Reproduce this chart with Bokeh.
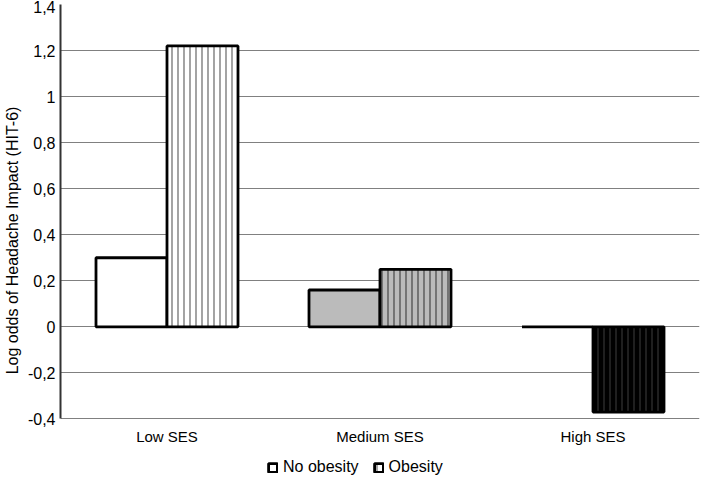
from bokeh.plotting import figure
from bokeh.models import ColumnDataSource, FactorRange, Range1d, FixedTicker, Legend, LegendItem
from bokeh.transform import dodge
from bokeh.embed import file_html
from bokeh.resources import INLINE

categories = ["Low SES", "Medium SES", "High SES"]
no_obesity = [0.30, 0.16, 0.0]
obesity = [1.22, 0.25, -0.37]
bar_colors = ["#ffffff", "#bbbbbb", "#000000"]
hatch_colors = ["#666666", "#444444", "#333333"]
y_ticks = [-0.4, -0.2, 0, 0.2, 0.4, 0.6, 0.8, 1.0, 1.2, 1.4]
y_tick_labels = ["-0,4", "-0,2", "0", "0,2", "0,4", "0,6", "0,8", "1", "1,2", "1,4"]
y_min, y_max = -0.4, 1.4
legend_room = 0.25  # extra space below the axis (data units) that holds the legend

src = ColumnDataSource(dict(cat=categories, no=no_obesity, ob=obesity,
                            color=bar_colors, hcolor=hatch_colors))

p = figure(width=700, height=476, x_range=FactorRange(factors=categories),
           y_range=Range1d(y_min - legend_room, y_max), output_backend="svg",
           toolbar_location=None,
           min_border_left=0, min_border_right=1, min_border_top=4, min_border_bottom=0)

r1 = p.vbar(x=dodge("cat", -1/6, range=p.x_range), bottom=0, top="no", width=1/3,
            source=src, fill_color="color", line_color="black", line_width=2.8)
r2 = p.vbar(x=dodge("cat", 1/6, range=p.x_range), bottom=0, top="ob", width=1/3,
            source=src, fill_color="color", line_color="black", line_width=2.8,
            hatch_pattern="vertical_line", hatch_color="hcolor", hatch_scale=6.0,
            hatch_weight=1.2)

p.outline_line_color = None
p.xgrid.grid_line_color = None
p.ygrid.ticker = FixedTicker(ticks=y_ticks)
p.ygrid.grid_line_color = "#808080"
p.ygrid.grid_line_width = 1
p.ygrid.level = "underlay"

p.yaxis.ticker = FixedTicker(ticks=y_ticks)
p.yaxis.bounds = (y_min, y_max)
p.yaxis.major_label_overrides = {t: l for t, l in zip(y_ticks, y_tick_labels)}
p.yaxis.axis_line_color = "#333333"
p.yaxis.axis_line_width = 2
p.yaxis.major_tick_line_color = None
p.yaxis.major_tick_out = 0
p.yaxis.minor_tick_line_color = None
p.yaxis.minor_tick_out = 0
p.yaxis.major_label_text_font = "Liberation Sans"
p.yaxis.major_label_text_font_size = "16px"
p.yaxis.major_label_text_color = "#000000"
p.yaxis.major_label_standoff = 5
p.yaxis.axis_label = "Log odds of Headache Impact (HIT-6)"
p.yaxis.axis_label_text_font = "Liberation Sans"
p.yaxis.axis_label_text_font_size = "16px"
p.yaxis.axis_label_text_font_style = "normal"
p.yaxis.axis_label_text_color = "#000000"
p.yaxis.axis_label_standoff = 4

p.xaxis.fixed_location = y_min
p.xaxis.axis_line_color = None
p.xaxis.major_tick_line_color = None
p.xaxis.major_tick_out = 0
p.xaxis.minor_tick_line_color = None
p.xaxis.major_label_text_font = "Liberation Sans"
p.xaxis.major_label_text_font_size = "15px"
p.xaxis.major_label_text_color = "#000000"
p.xaxis.major_label_standoff = 9

legend = Legend(items=[LegendItem(label="No obesity", renderers=[r1], index=0),
                       LegendItem(label="Obesity", renderers=[r2], index=0)],
                orientation="horizontal", location=(207, 0),
                label_text_font="Liberation Sans", label_text_font_size="16px",
                label_text_color="#000000", glyph_width=11, glyph_height=11,
                label_standoff=5, spacing=14, border_line_color=None,
                background_fill_alpha=0, margin=0, padding=3)
p.add_layout(legend, "center")

open("out.html", "w").write(file_html(p, INLINE))
